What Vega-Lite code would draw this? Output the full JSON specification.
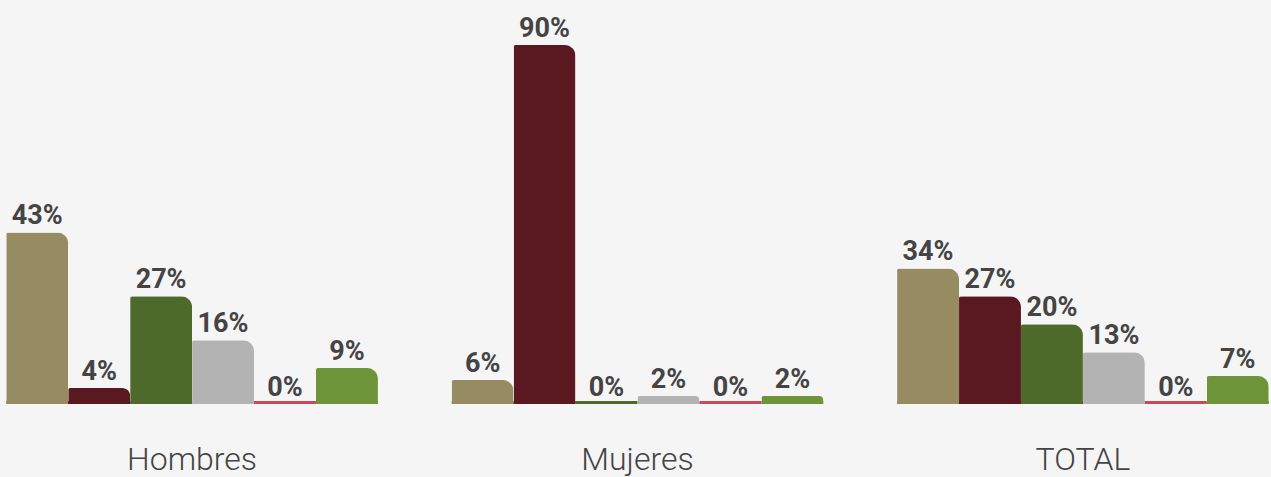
{
  "$schema": "https://vega.github.io/schema/vega-lite/v6.json",
  "width": 1267,
  "height": 359,
  "autosize": {"type": "none"},
  "padding": {"top": 45, "bottom": 73, "left": 4, "right": 0},
  "background": "#f5f5f5",
  "config": {"view": {"stroke": null}},
  "data": {
    "values": [
      {"grupo": "Hombres", "serie": "S1", "valor": 43, "etiqueta": "43%"},
      {"grupo": "Hombres", "serie": "S2", "valor": 4, "etiqueta": "4%"},
      {"grupo": "Hombres", "serie": "S3", "valor": 27, "etiqueta": "27%"},
      {"grupo": "Hombres", "serie": "S4", "valor": 16, "etiqueta": "16%"},
      {"grupo": "Hombres", "serie": "S5", "valor": 0, "etiqueta": "0%"},
      {"grupo": "Hombres", "serie": "S6", "valor": 9, "etiqueta": "9%"},
      {"grupo": "Mujeres", "serie": "S1", "valor": 6, "etiqueta": "6%"},
      {"grupo": "Mujeres", "serie": "S2", "valor": 90, "etiqueta": "90%"},
      {"grupo": "Mujeres", "serie": "S3", "valor": 0, "etiqueta": "0%"},
      {"grupo": "Mujeres", "serie": "S4", "valor": 2, "etiqueta": "2%"},
      {"grupo": "Mujeres", "serie": "S5", "valor": 0, "etiqueta": "0%"},
      {"grupo": "Mujeres", "serie": "S6", "valor": 2, "etiqueta": "2%"},
      {"grupo": "TOTAL", "serie": "S1", "valor": 34, "etiqueta": "34%"},
      {"grupo": "TOTAL", "serie": "S2", "valor": 27, "etiqueta": "27%"},
      {"grupo": "TOTAL", "serie": "S3", "valor": 20, "etiqueta": "20%"},
      {"grupo": "TOTAL", "serie": "S4", "valor": 13, "etiqueta": "13%"},
      {"grupo": "TOTAL", "serie": "S5", "valor": 0, "etiqueta": "0%"},
      {"grupo": "TOTAL", "serie": "S6", "valor": 7, "etiqueta": "7%"}
    ]
  },
  "encoding": {
    "x": {
      "field": "grupo", "type": "nominal",
      "sort": ["Hombres", "Mujeres", "TOTAL"],
      "scale": {"paddingInner": 0.1655, "paddingOuter": 0.005},
      "axis": {
        "title": null, "domain": false, "ticks": false, "labelAngle": 0,
        "labelFont": "Roboto", "labelFontWeight": 300,
        "labelFontSize": 32, "labelColor": "#444444",
        "labelBaseline": "alphabetic", "labelPadding": 65
      }
    },
    "xOffset": {
      "field": "serie", "type": "nominal",
      "sort": ["S1", "S2", "S3", "S4", "S5", "S6"],
      "scale": {"paddingInner": 0, "paddingOuter": 0}
    },
    "color": {
      "field": "serie", "type": "nominal",
      "scale": {
        "domain": ["S1", "S2", "S3", "S4", "S5", "S6"],
        "range": ["#978b62", "#5a1820", "#4e6a2a", "#b3b3b3", "#c94a56", "#6e9439"]
      },
      "legend": null
    }
  },
  "layer": [
    {
      "mark": {"type": "bar", "yOffset": -3},
      "encoding": {
        "y": {"datum": 0, "type": "quantitative", "scale": {"domain": [0, 90], "nice": false}, "axis": null},
        "y2": {"datum": 0}
      }
    },
    {
      "mark": {"type": "bar", "cornerRadiusTopRight": 11, "cornerRadiusTopLeft": 2},
      "encoding": {
        "y": {"field": "valor", "type": "quantitative", "scale": {"domain": [0, 90], "nice": false}, "axis": null}
      }
    },
    {
      "mark": {
        "type": "text", "dy": -8, "baseline": "alphabetic", "align": "center",
        "font": "Roboto",
        "fontSize": 27, "fontWeight": "bold", "color": "#444444"
      },
      "encoding": {
        "y": {"field": "valor", "type": "quantitative", "scale": {"domain": [0, 90], "nice": false}, "axis": null},
        "text": {"field": "etiqueta", "type": "nominal"},
        "color": {"value": "#444444"}
      }
    }
  ],
  "resolve": {"scale": {"y": "shared"}}
}
